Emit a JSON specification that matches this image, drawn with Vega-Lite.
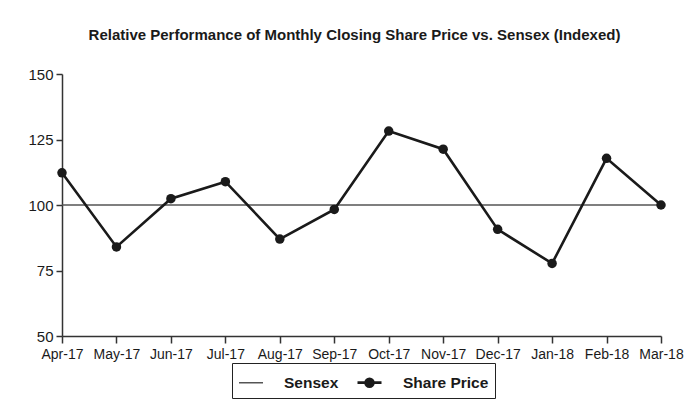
{
  "$schema": "https://vega.github.io/schema/vega-lite/v6.json",
  "width": 599,
  "height": 262,
  "autosize": {"type": "none"},
  "padding": {"left": 62, "top": 74, "right": 37, "bottom": 66},
  "background": "white",
  "title": {
    "text": "Relative Performance of Monthly Closing Share Price vs. Sensex (Indexed)",
    "font": "Liberation Sans",
    "fontSize": 15,
    "fontWeight": "bold",
    "color": "#1a1a1a",
    "anchor": "middle",
    "dx": -7,
    "offset": 24
  },
  "data": {
    "values": [
      {"month": "Apr-17", "series": "Sensex", "value": 100},
      {"month": "May-17", "series": "Sensex", "value": 100},
      {"month": "Jun-17", "series": "Sensex", "value": 100},
      {"month": "Jul-17", "series": "Sensex", "value": 100},
      {"month": "Aug-17", "series": "Sensex", "value": 100},
      {"month": "Sep-17", "series": "Sensex", "value": 100},
      {"month": "Oct-17", "series": "Sensex", "value": 100},
      {"month": "Nov-17", "series": "Sensex", "value": 100},
      {"month": "Dec-17", "series": "Sensex", "value": 100},
      {"month": "Jan-18", "series": "Sensex", "value": 100},
      {"month": "Feb-18", "series": "Sensex", "value": 100},
      {"month": "Mar-18", "series": "Sensex", "value": 100},
      {"month": "Apr-17", "series": "Share Price", "value": 112.3},
      {"month": "May-17", "series": "Share Price", "value": 84},
      {"month": "Jun-17", "series": "Share Price", "value": 102.4},
      {"month": "Jul-17", "series": "Share Price", "value": 108.9},
      {"month": "Aug-17", "series": "Share Price", "value": 87},
      {"month": "Sep-17", "series": "Share Price", "value": 98.3},
      {"month": "Oct-17", "series": "Share Price", "value": 128.2},
      {"month": "Nov-17", "series": "Share Price", "value": 121.3},
      {"month": "Dec-17", "series": "Share Price", "value": 90.7},
      {"month": "Jan-18", "series": "Share Price", "value": 77.7},
      {"month": "Feb-18", "series": "Share Price", "value": 117.8},
      {"month": "Mar-18", "series": "Share Price", "value": 100}
    ]
  },
  "encoding": {
    "x": {
      "field": "month",
      "type": "ordinal",
      "sort": null,
      "scale": {"type": "point", "padding": 0},
      "axis": {
        "title": null,
        "labelAngle": 0,
        "labelFont": "Liberation Sans",
        "labelFontSize": 14,
        "labelColor": "#1a1a1a",
        "labelPadding": 4,
        "domainColor": "#333",
        "domainWidth": 1.5,
        "tickColor": "#333",
        "tickWidth": 1.5,
        "tickSize": 7,
        "grid": false
      }
    },
    "y": {
      "field": "value",
      "type": "quantitative",
      "scale": {"domain": [50, 150], "nice": false, "zero": false},
      "axis": {
        "title": null,
        "values": [50, 75, 100, 125, 150],
        "labelFont": "Liberation Sans",
        "labelFontSize": 15,
        "labelColor": "#1a1a1a",
        "labelPadding": 3,
        "domainColor": "#333",
        "domainWidth": 1.5,
        "tickColor": "#333",
        "tickWidth": 1.5,
        "tickSize": 6,
        "grid": false
      }
    }
  },
  "layer": [
    {
      "mark": {"type": "line"},
      "encoding": {
        "color": {
          "field": "series",
          "type": "nominal",
          "scale": {"domain": ["Sensex", "Share Price"], "range": ["#555555", "#1a1a1a"]},
          "legend": {
            "title": null,
            "orient": "none",
            "legendX": 170,
            "legendY": 289,
            "direction": "horizontal",
            "padding": 6,
            "strokeColor": "#222",
            "fillColor": "white",
            "labelFont": "Liberation Sans",
            "labelFontSize": 15.5,
            "labelFontWeight": "bold",
            "labelColor": "#1a1a1a",
            "labelOffset": 20,
            "symbolSize": 576,
            "columnPadding": 13,
            "encode": {
              "symbols": {
                "update": {
                  "shape": {"signal": "datum.value === 'Share Price' ? 'M-1,0H1M-0.33,0A0.33,0.33 0 1,1 0.33,0A0.33,0.33 0 1,1 -0.33,0Z' : 'M-1,0H1'"},
                  "fill": {"signal": "datum.value === 'Share Price' ? '#1a1a1a' : 'transparent'"},
                  "strokeWidth": {"signal": "datum.value === 'Share Price' ? 2 : 1.3"}
                }
              }
            }
          }
        },
        "strokeWidth": {
          "field": "series",
          "type": "nominal",
          "scale": {"domain": ["Sensex", "Share Price"], "range": [1.5, 2.6]},
          "legend": null
        }
      }
    },
    {
      "transform": [{"filter": "datum.series === 'Share Price'"}],
      "mark": {"type": "point", "filled": true, "size": 90, "color": "#1a1a1a", "opacity": 1}
    }
  ],
  "config": {
    "view": {"stroke": null}
  }
}
